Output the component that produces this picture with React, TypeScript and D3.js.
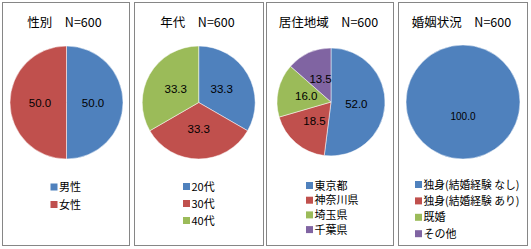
import React from "react";
import * as d3 from "d3";

const colors = ["#4F81BD", "#C0504D", "#9BBB59", "#8064A2"];

const titles = ["性別　N=600", "年代　N=600", "居住地域　N=600", "婚姻状況　N=600"];

const genderCats = ["男性", "女性"];
const genderVals = [50.0, 50.0];

const ageCats = ["20代", "30代", "40代"];
const ageVals = [33.3, 33.3, 33.3];

const regionCats = ["東京都", "神奈川県", "埼玉県", "千葉県"];
const regionVals = [52.0, 18.5, 16.0, 13.5];

const maritalCats = ["独身(結婚経験 なし)", "独身(結婚経験 あり)", "既婚", "その他"];
const maritalVals = [100.0, 0, 0, 0];

const panels = [
  { title: titles[0], cats: genderCats, vals: genderVals, x0: 2, x1: 129, cx: 66.5, cy: 102.5, r: 56.5, lx: 50.5, ly: 186, lstep: 17.5 },
  { title: titles[1], cats: ageCats, vals: ageVals, x0: 134, x1: 263, cx: 198.7, cy: 102.5, r: 56.5, lx: 183, ly: 185.5, lstep: 17 },
  { title: titles[2], cats: regionCats, vals: regionVals, x0: 266, x1: 393, cx: 331, cy: 102, r: 54, lx: 306, ly: 184.5, lstep: 14.7 },
  { title: titles[3], cats: maritalCats, vals: maritalVals, x0: 398, x1: 527, cx: 463, cy: 102, r: 57, lx: 415, ly: 183.5, lstep: 16.4 },
];

const font = "'Noto Sans CJK JP', 'Liberation Sans', sans-serif";

function Pie({ p }: { p: typeof panels[number] }) {
  const pie = d3.pie<number>().sort(null).value((d) => d);
  const arcs = pie(p.vals);
  const arc = d3.arc<d3.PieArcDatum<number>>().innerRadius(0).outerRadius(p.r);
  const labelArc = d3.arc<d3.PieArcDatum<number>>().innerRadius(p.r * 0.94).outerRadius(0);
  const tx = (p.x0 + p.x1) / 2 - 1;
  return (
    <g>
      <rect x={p.x0 + 0.5} y={2.5} width={p.x1 - p.x0} height={243} fill="#fff" stroke="#868686" strokeWidth={1} />
      <text x={tx} y={21} textAnchor="middle" dominantBaseline="central" fontSize={12.5} fontFamily={font} fill="#000">
        {p.title}
      </text>
      <g transform={`translate(${p.cx},${p.cy})`}>
        {arcs.map((a, i) =>
          a.value > 0 ? (
            <path key={i} d={arc(a) || ""} fill={colors[i]} stroke="#fff" strokeWidth={0.5} />
          ) : null
        )}
        {arcs.map((a, i) => {
          if (a.value <= 0) return null;
          const full = a.endAngle - a.startAngle > Math.PI * 1.9;
          const [x, y] = full ? [0, p.r * 0.25] : labelArc.centroid(a);
          return (
            <text key={"l" + i} x={x} y={y} textAnchor="middle" dominantBaseline="central" fontSize={full ? 10 : 11.5} fontFamily="'Liberation Sans', sans-serif" fill="#000">
              {d3.format(".1f")(a.value)}
            </text>
          );
        })}
      </g>
      {p.cats.map((c, i) => (
        <g key={"lg" + i}>
          <rect x={p.lx} y={p.ly + i * p.lstep - 2.5} width={7} height={7} fill={colors[i]} />
          <text
            x={p.lx + 8.5}
            y={p.ly + i * p.lstep}
            dominantBaseline="central"
            fontSize={11}
            fontFamily={font}
            fill="#000"
            {...(c.length > 8 ? { textLength: 96, lengthAdjust: "spacingAndGlyphs" } : {})}
          >
            {c}
          </text>
        </g>
      ))}
    </g>
  );
}

export default function App() {
  return (
    <svg width={531} height={249} style={{ position: "absolute", left: 0, top: 0 }}>
      <rect width={531} height={249} fill="#fff" />
      {panels.map((p, i) => (
        <Pie key={i} p={p} />
      ))}
    </svg>
  );
}
